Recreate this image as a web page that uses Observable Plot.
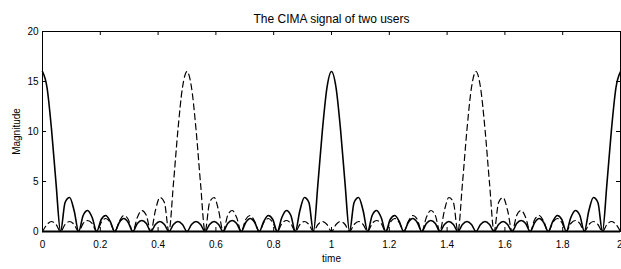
<!DOCTYPE html>
<html>
<head>
<meta charset="utf-8">
<script src="https://cdn.jsdelivr.net/npm/d3@7"></script>
<script src="https://cdn.jsdelivr.net/npm/@observablehq/plot@0.6"></script>
<style>
  html, body { margin: 0; padding: 0; background: #fff; }
  #chart svg { display: block; }
</style>
</head>
<body>
<div id="chart"></div>
<script>
// Title and axis labels
const titleText = "The CIMA signal of two users";
const xLabel = "time";
const yLabel = "Magnitude";

// Tick values
const xTicks = [0, 0.2, 0.4, 0.6, 0.8, 1, 1.2, 1.4, 1.6, 1.8, 2];
const xTickLabels = ["0", "0.2", "0.4", "0.6", "0.8", "1", "1.2", "1.4", "1.6", "1.8", "2"];
const yTicks = [0, 5, 10, 15, 20];

// Sampling step of the read-off values (time units)
const timeStep = 1 / 64;

// User 1 (solid line), magnitude at each sample
const user1 = [
  16, 14.4, 10.2, 4.8, 0, 2.9, 3.4, 2.1, 0, 1.6, 2.1, 1.4, 0, 1.2, 1.6, 1.0, 0, 0.9, 1.3, 0.9, 0, 0.8, 1.1, 0.8, 0, 0.7, 1.0, 0.7, 0, 0.7, 1.0, 0.7, 0,
  0.7, 1.0, 0.7, 0, 0.7, 1.0, 0.7, 0, 0.8, 1.1, 0.8, 0, 0.9, 1.3, 0.9, 0, 1.0, 1.6, 1.2, 0, 1.4, 2.1, 1.6, 0, 2.1, 3.4, 2.9, 0, 4.8, 10.2, 14.4, 16,
  14.4, 10.2, 4.8, 0, 2.9, 3.4, 2.1, 0, 1.6, 2.1, 1.4, 0, 1.2, 1.6, 1.0, 0, 0.9, 1.3, 0.9, 0, 0.8, 1.1, 0.8, 0, 0.7, 1.0, 0.7, 0, 0.7, 1.0, 0.7, 0,
  0.7, 1.0, 0.7, 0, 0.7, 1.0, 0.7, 0, 0.8, 1.1, 0.8, 0, 0.9, 1.3, 0.9, 0, 1.0, 1.6, 1.2, 0, 1.4, 2.1, 1.6, 0, 2.1, 3.4, 2.9, 0, 4.8, 10.2, 14.4, 16
];

// User 2 (dashed line), magnitude at each sample
const user2 = [
  0, 0.7, 1.0, 0.7, 0, 0.7, 1.0, 0.7, 0, 0.8, 1.1, 0.8, 0, 0.9, 1.3, 0.9, 0, 1.0, 1.6, 1.2, 0, 1.4, 2.1, 1.6, 0, 2.1, 3.4, 2.9, 0, 4.8, 10.2, 14.4, 16,
  14.4, 10.2, 4.8, 0, 2.9, 3.4, 2.1, 0, 1.6, 2.1, 1.4, 0, 1.2, 1.6, 1.0, 0, 0.9, 1.3, 0.9, 0, 0.8, 1.1, 0.8, 0, 0.7, 1.0, 0.7, 0, 0.7, 1.0, 0.7, 0,
  0.7, 1.0, 0.7, 0, 0.7, 1.0, 0.7, 0, 0.8, 1.1, 0.8, 0, 0.9, 1.3, 0.9, 0, 1.0, 1.6, 1.2, 0, 1.4, 2.1, 1.6, 0, 2.1, 3.4, 2.9, 0, 4.8, 10.2, 14.4, 16,
  14.4, 10.2, 4.8, 0, 2.9, 3.4, 2.1, 0, 1.6, 2.1, 1.4, 0, 1.2, 1.6, 1.0, 0, 0.9, 1.3, 0.9, 0, 0.8, 1.1, 0.8, 0, 0.7, 1.0, 0.7, 0, 0.7, 1.0, 0.7, 0
];

const rows1 = user1.map((v, i) => ({t: i * timeStep, m: v}));
const rows2 = user2.map((v, i) => ({t: i * timeStep, m: v}));

const W = 621, H = 269;
const mL = 42, mR = 1, mT = 31, mB = 38;
const frameH = H - mT - mB;
const tick = 4;
const font = "'Liberation Sans', Arial, Helvetica, sans-serif";
const labelOf = d => xTickLabels[xTicks.indexOf(d)];
const lastTick = xTicks[xTicks.length - 1];

const chart = Plot.plot({
  width: W,
  height: H,
  marginLeft: mL,
  marginRight: mR,
  marginTop: mT,
  marginBottom: mB,
  style: {fontFamily: font, fontSize: "10px", color: "#000", background: "#fff"},
  x: {domain: [0, 2]},
  y: {domain: [0, 20]},
  marks: [
    Plot.frame({stroke: "#000", strokeWidth: 1}),
    // inward ticks bottom / top
    Plot.tickX(xTicks, {x: d => d, insetTop: frameH - tick, stroke: "#000"}),
    Plot.tickX(xTicks, {x: d => d, insetBottom: frameH - tick, stroke: "#000"}),
    // inward ticks left / right
    Plot.tickY(yTicks, {y: d => d, insetRight: W - mL - mR - tick, stroke: "#000"}),
    Plot.tickY(yTicks, {y: d => d, insetLeft: W - mL - mR - tick, stroke: "#000"}),
    Plot.axisX({ticks: xTicks.slice(0, -1), tickSize: 0, tickPadding: 9, tickFormat: labelOf,
      label: xLabel, labelAnchor: "center", labelArrow: "none", labelOffset: 30, fontSize: 10}),
    Plot.axisX({ticks: [lastTick], tickSize: 0, tickPadding: 9, tickFormat: labelOf, label: null,
      textAnchor: "end", dx: 2, fontSize: 10}),
    Plot.axisY({ticks: yTicks, tickSize: 0, tickPadding: 4, label: yLabel, labelAnchor: "center",
      labelArrow: "none", labelOffset: 30, fontSize: 10}),
    Plot.line(rows2, {x: "t", y: "m", stroke: "#000", strokeWidth: 1.2, strokeDasharray: "6,4", curve: "monotone-x"}),
    Plot.line(rows1, {x: "t", y: "m", stroke: "#000", strokeWidth: 1.6, curve: "monotone-x"}),
    Plot.ruleY([0], {stroke: "#000", strokeWidth: 2}),
    Plot.text([titleText], {frameAnchor: "top", dy: -17, text: d => d, fontSize: 12, fill: "#000"})
  ]
});

document.getElementById("chart").appendChild(chart);
</script>
</body>
</html>
